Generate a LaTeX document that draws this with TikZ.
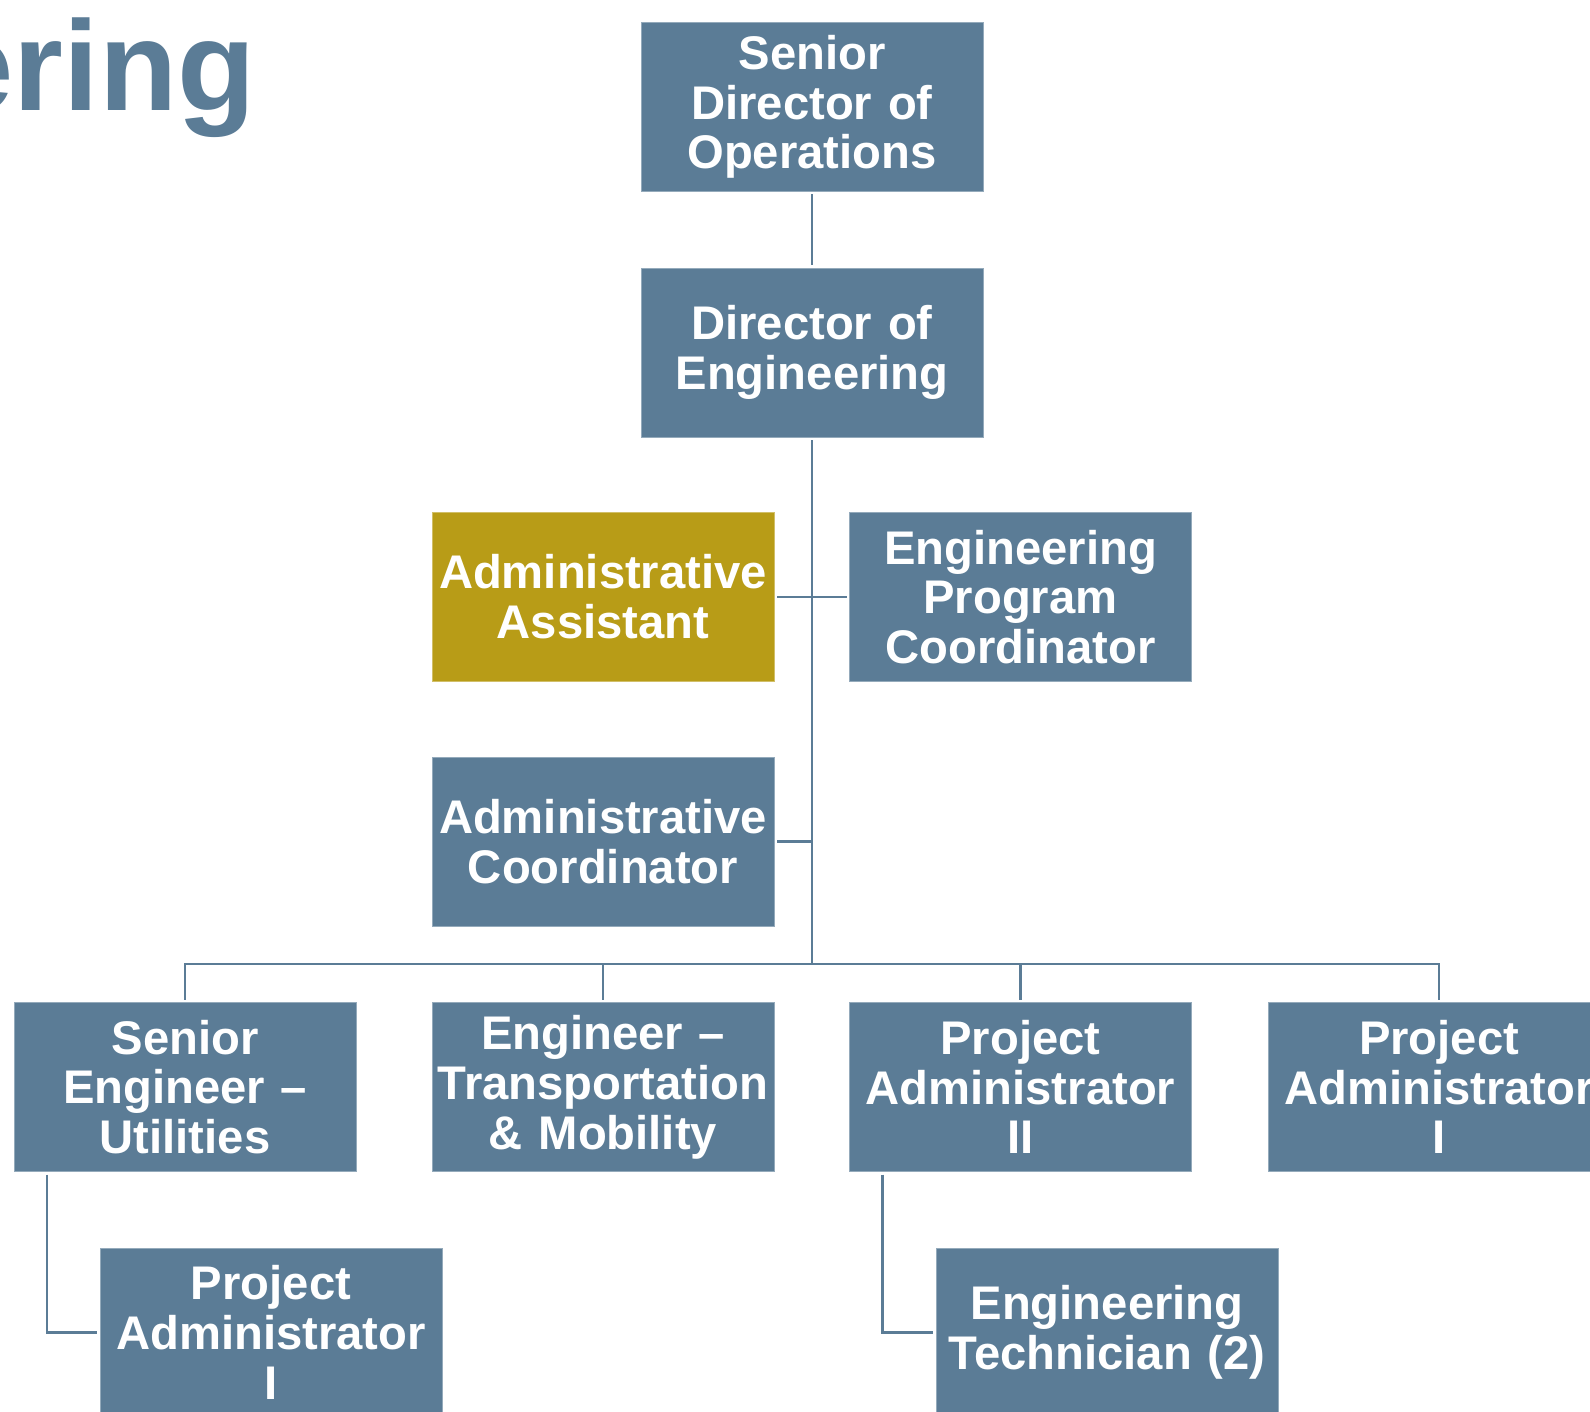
\documentclass[tikz,border=0pt]{standalone}
\usepackage{fontspec}
\setmainfont{Liberation Sans}
\definecolor{boxblue}{HTML}{5B7C96}
\definecolor{boxgold}{HTML}{B89C17}
\begin{document}
\begin{tikzpicture}[x=0.5pt,y=-0.5pt,
  box/.style={fill=boxblue, draw=boxblue!65!white, line width=0.4pt,
    minimum width=171pt, minimum height=84.5pt, text width=171pt,
    inner sep=0pt, outer sep=1.5pt, text=white, align=center,
    font=\bfseries\fontsize{23.6}{24.9}\selectfont},
  goldbox/.style={box, fill=boxgold, draw=boxgold!65!white},
  conn/.style={draw=boxblue, line width=1.35pt}]
\useasboundingbox (0,0) rectangle (1590,1412);

% title fragment
\node[anchor=base east, inner sep=0pt, text=boxblue,
  font=\bfseries\fontsize{64}{64}\selectfont] (title) at (256,111) {ering};

% boxes
\node[box] (sdo) at (812,107) {Senior\\Director of\\Operations};
\node[box] (doe) at (812,352.5) {Director of\\Engineering};
\node[goldbox] (aa) at (603,597) {Administrative\\Assistant};
\node[box] (epc) at (1020.5,597) {Engineering\\Program\\Coordinator};
\node[box] (ac) at (603,841.5) {Administrative\\Coordinator};
\node[box] (seu) at (185,1087) {Senior\\Engineer –\\Utilities};
\node[box] (etm) at (603,1087) {Engineer –\\Transportation\\\& Mobility};
\node[box] (pa2) at (1020.5,1087) {Project\\Administrator\\II};
\node[box] (pa1r) at (1439,1087) {Project\\Administrator\\I};
\node[box] (pa1) at (271,1332.5) {Project\\Administrator\\I};
\node[box] (et) at (1107,1332.5) {Engineering\\Technician (2)};

\coordinate (bus) at (812,964);

% connectors
\draw[conn] (sdo.south) -- (doe.north);
\draw[conn] (doe.south) -- (bus);
\draw[conn] (aa.east) -- (epc.west);
\draw[conn] (ac.east) -- (ac.east -| bus);
\draw[conn] (seu.north) |- (bus) -| (pa1r.north);
\draw[conn] (etm.north) -- (etm.north |- bus);
\draw[conn] (pa2.north) -- (pa2.north |- bus);
\draw[conn] ([xshift=18pt]seu.south west) |- (pa1.west);
\draw[conn] ([xshift=18pt]pa2.south west) |- (et.west);
\end{tikzpicture}
\end{document}
